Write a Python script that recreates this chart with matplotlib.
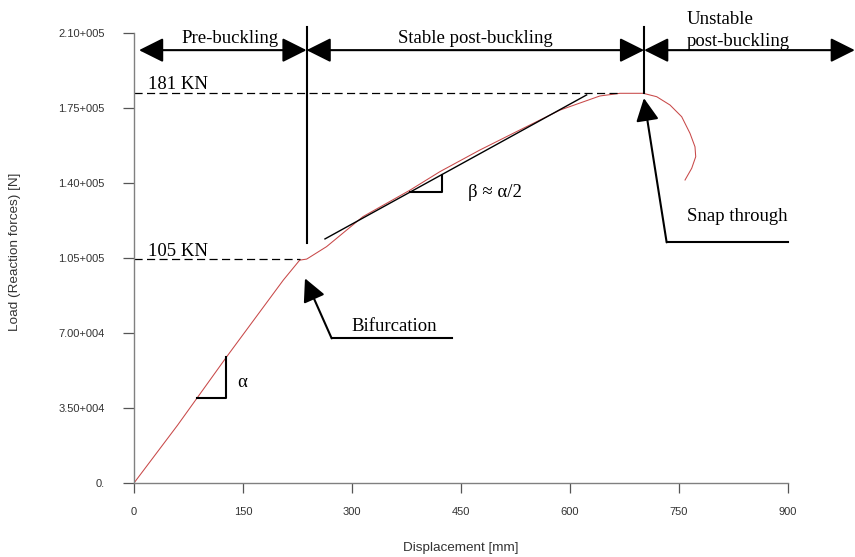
import matplotlib
matplotlib.use('Agg')
import matplotlib.pyplot as plt
from matplotlib import font_manager

# load-displacement curve
disp = [0, 60, 127.5, 205.5, 228, 237.7, 265, 315, 380, 421, 476, 526, 586,
        641, 668.8, 700.8, 719.3, 737.6, 753.7, 765.1, 772, 773, 767.5, 758.3]
load = [0, 27000, 58900, 94700, 104000, 104500, 110300, 124300, 136700, 145300,
        155400, 163900, 174000, 180600, 181860, 181860, 180270, 176400, 170930,
        163200, 156900, 152270, 146870, 141400]

x_ticks = [0, 150, 300, 450, 600, 750, 900]
y_ticks = [0, 35000, 70000, 105000, 140000, 175000, 210000]
y_tick_labels = ['0.', '3.50+004', '7.00+004', '1.05+005', '1.40+005', '1.75+005', '2.10+005']

# annotation geometry (data units)
bif_x, snap_x = 237.5, 702
peak_load, bif_load = 182000, 104500
tangent_x = [262.8, 622.9]
tangent_y = [113900, 181100]
alpha_tri_x = [86.2, 126.6, 126.6]
alpha_tri_y = [39800, 39800, 58900]
beta_tri_x = [379.8, 423.4, 423.4]
beta_tri_y = [135950, 135950, 143700]

serif = ['Liberation Serif', 'DejaVu Serif']
sans = ['Liberation Sans', 'DejaVu Sans']

# narrow face for tick labels if the system has it
names = {f.name for f in font_manager.fontManager.ttflist}
if 'Liberation Sans Narrow' in names:
    tick_font, tick_size = ['Liberation Sans Narrow'] + sans, 9.5
else:
    tick_font, tick_size = sans, 8

fig = plt.figure(figsize=(8.55, 5.57), dpi=100)
ax = fig.add_axes([134 / 855, 74 / 557, 654 / 855, 450 / 557])

ax.plot(disp, load, color='#c84848', lw=0.75)

ax.set_xlim(0, 900)
ax.set_ylim(0, 210000)
ax.set_xticks(x_ticks)
ax.set_xticklabels([str(t) for t in x_ticks])
ax.set_yticks(y_ticks)
ax.set_yticklabels(y_tick_labels)
for lab in ax.get_xticklabels() + ax.get_yticklabels():
    lab.set_family(tick_font)
    lab.set_fontsize(tick_size)
    lab.set_color('#333333')
ax.tick_params(axis='y', length=8, width=0.9, color='#555555', pad=13)
ax.tick_params(axis='x', length=7, width=0.9, color='#555555', pad=10)
for s in ['top', 'right']:
    ax.spines[s].set_visible(False)
for s in ['left', 'bottom']:
    ax.spines[s].set_color('#808080')
    ax.spines[s].set_linewidth(1.0)

fig.text(15 / 855, 1 - 251.5 / 557, 'Load (Reaction forces) [N]', rotation=90,
         ha='center', va='center', family=sans, fontsize=9.7, color='#333333')
fig.text(461 / 855, 1 - 548 / 557, 'Displacement [mm]', ha='center', va='center',
         family=sans, fontsize=9.7, color='#333333')

# dashed reference levels
ax.plot([0, 670], [peak_load, peak_load], color='k', lw=0.9, ls=(0, (6.5, 3.5)))
ax.plot([0, 228], [bif_load, bif_load], color='k', lw=0.9, ls=(0, (6.5, 3.5)))
ax.text(19, 183900, '181 KN', family=serif, fontsize=13.5, va='baseline')
ax.text(19, 106100, '105 KN', family=serif, fontsize=13.5, va='baseline')

# region boundaries
ax.plot([bif_x, bif_x], [112000, 212800], color='k', lw=1.5, clip_on=False)
ax.plot([snap_x, snap_x], [181860, 212800], color='k', lw=1.5, clip_on=False)

arr = dict(arrowstyle='<|-|>,head_length=1.5,head_width=0.75', mutation_scale=10,
           lw=1.5, color='k', shrinkA=0, shrinkB=0)
arr_y = 202000
ax.annotate('', xy=(bif_x, arr_y), xytext=(6.9, arr_y), arrowprops=arr, annotation_clip=False)
ax.annotate('', xy=(snap_x, arr_y), xytext=(bif_x, arr_y), arrowprops=arr, annotation_clip=False)
ax.annotate('', xy=(992, arr_y), xytext=(snap_x, arr_y), arrowprops=arr, annotation_clip=False)

ax.text(132, 205200, 'Pre-buckling', family=serif, fontsize=13.5, ha='center', va='baseline')
ax.text(470, 205200, 'Stable post-buckling', family=serif, fontsize=13.5, ha='center', va='baseline')
ax.text(760.5, 214200, 'Unstable', family=serif, fontsize=13.5, va='baseline', clip_on=False)
ax.text(760.5, 204100, 'post-buckling', family=serif, fontsize=13.5, va='baseline')

# slopes
ax.plot(tangent_x, tangent_y, color='k', lw=1.0)
ax.plot(alpha_tri_x, alpha_tri_y, color='k', lw=1.5)
ax.plot(beta_tri_x, beta_tri_y, color='k', lw=1.5)
ax.text(141.7, 45000, '\u03b1', family=serif, fontsize=13.5, va='baseline')
ax.text(460, 133600, '\u03b2 \u2248 \u03b1/2', family=serif, fontsize=13.5, va='baseline')

# callouts
one = dict(arrowstyle='-|>,head_length=1.4,head_width=0.7', mutation_scale=10,
           lw=1.5, color='k', shrinkA=0, shrinkB=0)
ax.annotate('', xy=(235.3, 95500), xytext=(272, 67500), arrowprops=one)
ax.plot([272, 438], [67500, 67500], color='k', lw=1.5)
ax.text(298.6, 70900, 'Bifurcation', family=serif, fontsize=13.5, va='baseline')

ax.annotate('', xy=(701.7, 179600), xytext=(733, 112300), arrowprops=one)
ax.plot([733, 900.4], [112300, 112300], color='k', lw=1.5, clip_on=False)
ax.text(760.5, 122300, 'Snap through', family=serif, fontsize=13.5, va='baseline')

fig.savefig('out.png', dpi=100)
